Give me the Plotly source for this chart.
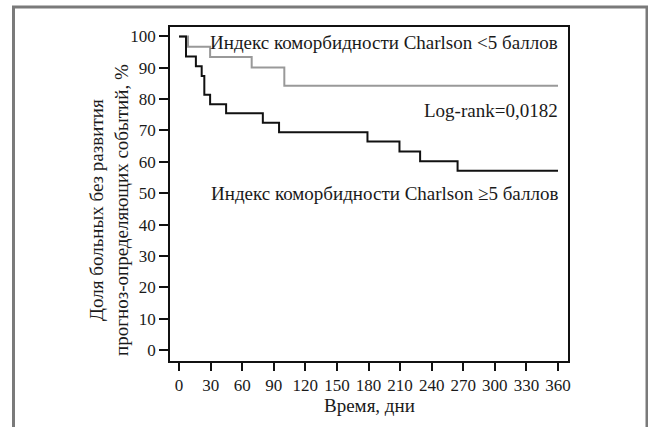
import plotly.graph_objects as go

# Data
t_high = [0, 6.6, 16, 21.5, 24, 29.5, 44.7, 79.6, 95, 179, 209.4, 229, 264.6, 360]
s_high = [100, 93.6, 90.5, 87.4, 81.4, 78.4, 75.5, 72.5, 69.4, 66.5, 63.3, 60.2, 57.2, 57.2]
t_low = [0, 8.5, 29.5, 69, 100, 360]
s_low = [100, 96.7, 93.4, 90.1, 84.3, 84.3]
x_ticks = list(range(0, 361, 30))
y_ticks = list(range(0, 101, 10))

FONT = "Liberation Serif, Tinos, 'Times New Roman', Times, 'DejaVu Serif', serif"
W, H = 648, 427
L, R, T, B = 170, 80, 27, 66
pw, ph = W - L - R, H - T - B

def px(xp):
    return (xp - L) / pw

def py(yp):
    return (H - B - yp) / ph

fig = go.Figure()
fig.add_trace(go.Scatter(x=t_low, y=s_low, mode="lines", line=dict(shape="hv", color="#999999", width=2), showlegend=False))
fig.add_trace(go.Scatter(x=t_high, y=s_high, mode="lines", line=dict(shape="hv", color="#111111", width=2), showlegend=False))

fig.update_layout(
    width=W, height=H,
    margin=dict(l=L, r=R, t=T, b=B),
    paper_bgcolor="white", plot_bgcolor="white",
    font=dict(family=FONT, color="#1a1a1a", size=17),
    xaxis=dict(range=[-8.6, 369.5], tickvals=x_ticks, ticks="outside", ticklen=8, tickwidth=1.5,
               tickcolor="#111", showline=True, linecolor="#111", linewidth=1.5, mirror=True,
               showgrid=False, zeroline=False, tickfont=dict(family=FONT, size=17)),
    yaxis=dict(range=[-3.5, 103], tickvals=y_ticks, ticks="outside", ticklen=9, tickwidth=1.5,
               tickcolor="#111", showline=True, linecolor="#111", linewidth=1.5, mirror=True,
               showgrid=False, zeroline=False, tickfont=dict(family=FONT, size=17)),
)

ann_font = dict(family=FONT, size=19, color="#1a1a1a")
fig.add_annotation(x=362, y=98.1, xref="x", yref="y", text="Индекс коморбидности Charlson <5 баллов",
                   showarrow=False, xanchor="right", yanchor="middle", font=ann_font)
fig.add_annotation(x=362, y=76.4, xref="x", yref="y", text="Log-rank=0,0182",
                   showarrow=False, xanchor="right", yanchor="middle", font=ann_font)
fig.add_annotation(x=362, y=50, xref="x", yref="y", text="Индекс коморбидности Charlson ≥5 баллов",
                   showarrow=False, xanchor="right", yanchor="middle", font=ann_font)
fig.add_annotation(x=px(109), y=py(210), xref="paper", yref="paper",
                   text="Доля больных без развития<br>прогноз-определяющих событий, %",
                   textangle=-90, showarrow=False, xanchor="center", yanchor="middle", font=ann_font)
fig.add_annotation(x=px(369), y=py(405), xref="paper", yref="paper", text="Время, дни",
                   showarrow=False, xanchor="center", yanchor="middle", font=ann_font)

# outer frame of the figure
fig.add_shape(type="rect", xref="paper", yref="paper", x0=px(13.5), x1=px(647), y0=py(440), y1=py(7),
              line=dict(color="#7a7a7a", width=3), fillcolor="rgba(0,0,0,0)", layer="below")

fig.write_html("out.html", config={"displayModeBar": False},
               post_script="document.body.style.margin='0';document.body.style.overflow='hidden';")
